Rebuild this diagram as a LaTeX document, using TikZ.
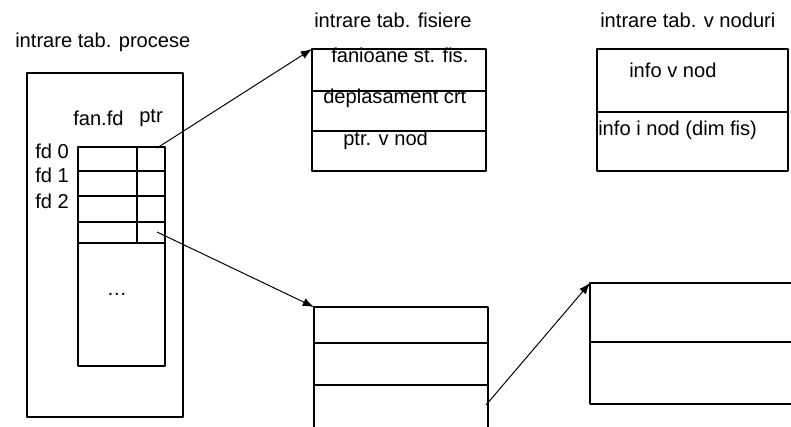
\documentclass[tikz,border=0pt]{standalone}
\usepackage{fontspec}
\setmainfont{Liberation Sans}
\usetikzlibrary{arrows.meta}
\tikzset{
  lbl/.style={inner sep=0pt, anchor=west},
  box/.style={line width=1pt},
  ptrarrow/.style={line width=0.7pt, -{Latex[length=8pt,width=6pt]}}
}
\begin{document}
\begin{tikzpicture}[x=0.025cm, y=-0.025cm, font=\fontsize{14.3}{16}\selectfont, line join=round];
			\clip (0,0) rectangle (791,427);
			% tabela de procese
			\node[lbl] (tproc) at (15,42) {intrare tab. procese};
			\draw[box] (27,73) rectangle (183,417);
			\draw[box] (78,147) rectangle (165,366);
			\foreach \y in {171,196,222,243} \draw[box] (78,\y) -- (165,\y);
			\draw[box] (137,147) -- (137,244);
			\node[lbl] (hfan) at (73,118) {fan.fd};
			\node[lbl] (hptr) at (139,118) {ptr};
			\node[lbl] (fd0) at (35,151) {fd 0};
			\node[lbl] (fd1) at (35,175) {fd 1};
			\node[lbl] (fd2) at (35,201) {fd 2};
			\node[inner sep=0pt, anchor=base] (dots) at (117,295) {\dots};
			\coordinate (p0) at (157,148);
			\coordinate (p3) at (157,232);
			% tabela de fisiere
			\node[lbl] (tfis) at (314,20) {intrare tab. fisiere};
			\coordinate (fis) at (312,49);
			\draw[box] (fis) rectangle (486,171);
			\draw[box] (312,91) -- (486,91) (312,131) -- (486,131);
			\node[lbl] (fan) at (331,55) {fanioane st. fis.};
			\node[lbl] (depl) at (323,98) {deplasament crt};
			\node[lbl] (pvn) at (343,140) {ptr. v nod};
			% tabela de v noduri
			\node[lbl] (tvn) at (600,20) {intrare tab. v noduri};
			\draw[box] (597,49) rectangle (788,171);
			\draw[box] (597,112) -- (788,112);
			\node[lbl] (ivn) at (629,70) {info v nod};
			\node[lbl] (iin) at (598,130) {info i nod (dim fis)};
			% intrari jos
			\coordinate (fis2) at (314,307);
			\draw[box] (fis2) rectangle (488,440);
			\draw[box] (314,343) -- (488,343) (314,385) -- (488,385);
			\coordinate (q2) at (486,405);
			\coordinate (vn2) at (590,283);
			\draw[box] (vn2) rectangle (800,404);
			\draw[box] (590,342) -- (800,342);
			% sageti
			\draw[ptrarrow] (p0) -- (fis);
			\draw[ptrarrow] (p3) -- (fis2);
			\draw[ptrarrow] (q2) -- (vn2);
		\end{tikzpicture}
\end{document}
